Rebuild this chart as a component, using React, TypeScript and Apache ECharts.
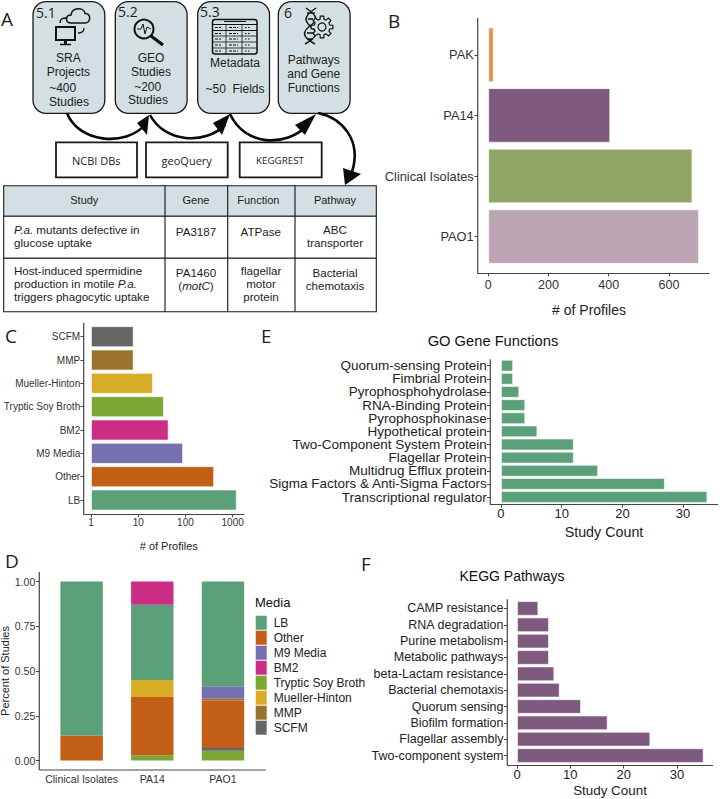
import React, { useEffect, useRef } from "react";
import * as echarts from "echarts";

// ---------- data ----------
const strainCats = ["PAK", "PA14", "Clinical Isolates", "PAO1"];
const strainVals = [18, 405, 678, 700];
const strainColors = ["#E38F4E", "#7E5A7F", "#90A564", "#BCA5B3"];

const mediaCats = ["SCFM", "MMP", "Mueller-Hinton", "Tryptic Soy Broth", "BM2", "M9 Media", "Other", "LB"];
const mediaVals = [8, 8, 20.6, 35, 44, 89, 404, 1222];
const mediaColors = ["#666666", "#9A722C", "#D9AC28", "#7CA733", "#CC2D85", "#7570B0", "#C25E16", "#5BA078"];

const goCats = ["Quorum-sensing Protein", "Fimbrial Protein", "Pyrophosphohydrolase", "RNA-Binding Protein", "Pyrophosphokinase", "Hypothetical protein", "Two-Component System Protein", "Flagellar Protein", "Multidrug Efflux protein", "Sigma Factors & Anti-Sigma Factors", "Transcriptional regulator"];
const goVals = [2, 2, 3, 4, 4, 6, 12, 12, 16, 27, 34];

const keggCats = ["CAMP resistance", "RNA degradation", "Purine metabolism", "Metabolic pathways", "beta-Lactam resistance", "Bacterial chemotaxis", "Quorum sensing", "Biofilm formation", "Flagellar assembly", "Two-component system"];
const keggVals = [4, 6, 6, 6, 7, 8, 12, 17, 25, 35];

const stackCats = ["Clinical Isolates", "PA14", "PAO1"];
const stackTryptic = [null, 0.03, 0.055];
const stackSCFM = [null, null, 0.015];
const stackOther = [0.14, 0.325, 0.265];
const stackMMP = [null, null, 0.01];
const stackMueller = [null, 0.095, null];
const stackM9 = [null, null, 0.07];
const stackLB = [0.86, 0.42, 0.585];
const stackBM2 = [null, 0.13, null];
const legendOrder = ["LB", "Other", "M9 Media", "BM2", "Tryptic Soy Broth", "Mueller-Hinton", "MMP", "SCFM"];

const ticksB = [0, 200, 400, 600];
const ticksC = [1, 10, 100, 1000];
const ticksD = [0, 0.25, 0.5, 0.75, 1];
const ticksE = [0, 10, 20, 30];
const ticksF = [0, 10, 20, 30];

const SANS = "Liberation Sans";
const ALT = "Open Sans";
const INK = "#222222";
const AXIS = "#444444";
const PALE = "#D3DFE2";
const EDGE = "rgba(255,255,255,0.55)";

// ---------- panel A helpers ----------
const txt = (text: string, x: number, y: number, fontSize = 12, align = "center", font = SANS, extra: any = {}) => ({
  type: "text", x, y, z: 5,
  style: { text, fontSize, fontFamily: font, fill: extra.fill || "#1c1c1c", align, verticalAlign: "middle", rich: extra.rich, lineHeight: extra.lineHeight },
});
const ln = (x1: number, y1: number, x2: number, y2: number, lineWidth = 1, stroke = "#111", lineDash?: number[]) => ({
  type: "line", z: 4, shape: { x1, y1, x2, y2 }, style: { stroke, lineWidth, lineDash },
});
const rectEl = (x: number, y: number, width: number, height: number, fill: string, lineWidth = 1.3, r = 0) => ({
  type: "rect", z: 3, shape: { x, y, width, height, r }, style: { fill, stroke: "#1a1a1a", lineWidth },
});
const curve = (x1: number, y1: number, cx1: number, cy1: number, cx2: number, cy2: number, x2: number, y2: number) => ({
  type: "bezierCurve", z: 4,
  shape: { x1, y1, x2, y2, cpx1: cx1, cpy1: cy1, cpx2: cx2, cpy2: cy2 },
  style: { stroke: "#0a0a0a", lineWidth: 2.6, fill: "none" },
});
const head = (points: number[][]) => ({ type: "polygon", z: 4, shape: { points }, style: { fill: "#0a0a0a" } });

const gearPath = (cx: number, cy: number, r1: number, r2: number, teeth: number) => {
  let d = "";
  const step = (Math.PI * 2) / teeth;
  for (let i = 0; i < teeth; i++) {
    const a = i * step;
    const pts = [[r1, a - step * 0.32], [r2, a - step * 0.2], [r2, a + step * 0.2], [r1, a + step * 0.32]];
    pts.forEach(([r, t], j) => {
      const px = (cx + r * Math.cos(t)).toFixed(2);
      const py = (cy + r * Math.sin(t)).toFixed(2);
      d += (i === 0 && j === 0 ? "M" : "L") + px + " " + py + " ";
    });
  }
  return d + "Z";
};

echarts.graphic.registerShape("cloudIcon", echarts.graphic.extendPath(
  "M71 23 C65 23 65 15 71 15 C72 7 84 7 85 13.5 C91.5 13 91 23 85 23 Z", {}) as any);
echarts.graphic.registerShape("dnaIcon", echarts.graphic.extendPath(
  "M306 8 C318 16 318 20 310 26 C302 32 302 37 315 44 M316 8 C304 16 304 20 310 26 C318 32 318 37 305 44 M307 13 L315 13 M308 19 L313 19 M307 33 L314 33 M307 39 L313 39", {}) as any);
echarts.graphic.registerShape("gearIcon", echarts.graphic.extendPath(gearPath(322, 27, 8, 11, 8), {}) as any);
const iconStyle = (lineWidth: number) => ({ fill: "none", stroke: "#111", lineWidth });

const panelA = () => {
  const els: any[] = [];
  // process boxes
  [33, 115.3, 197.7, 278.3].forEach((x) => els.push(rectEl(x, 1.7, 71.8, 111.6, PALE, 1.3, 13)));
  els.push(txt("5.1", 36, 12, 14, "left", ALT), txt("5.2", 118, 11, 14, "left", ALT), txt("5.3", 200, 11, 14, "left", ALT), txt("6", 284, 12, 14, "left", ALT));
  els.push(txt("SRA", 68.3, 58), txt("Projects", 68.3, 72), txt("~400", 62.7, 88), txt("Studies", 69, 102));
  els.push(txt("GEO", 151, 58), txt("Studies", 151, 72), txt("~200", 147.7, 87), txt("Studies", 148, 100));
  els.push(txt("Metadata", 235, 63), txt("~50  Fields", 235, 89));
  els.push(txt("Pathways", 313.7, 60), txt("and Gene", 313.7, 74), txt("Functions", 313.7, 88));
  // icon: cloud + monitor
  els.push({ type: "cloudIcon", z: 4, style: iconStyle(1.5) });
  els.push({ type: "rect", z: 4, shape: { x: 56, y: 27, width: 19, height: 13 }, style: iconStyle(2) });
  els.push(ln(65.5, 40, 65.5, 44, 3), ln(60, 44.5, 71, 44.5, 1.5));
  els.push(curve(60, 23, 60, 19, 62, 18, 67, 18), curve(84, 28, 84, 32, 82, 33, 78, 33));
  els[els.length - 1].style.lineWidth = 1.3; els[els.length - 2].style.lineWidth = 1.3;
  // icon: magnifier
  els.push({ type: "circle", z: 4, shape: { cx: 144, cy: 29, r: 9.5 }, style: iconStyle(2) });
  els.push(ln(151, 36, 163, 45, 3.2));
  els.push({ type: "polyline", z: 4, shape: { points: [[137, 29], [141, 29], [143, 24], [145, 34], [147, 27], [151, 29]] }, style: iconStyle(1) });
  // icon: table
  els.push({ type: "rect", z: 4, shape: { x: 212.5, y: 19.5, width: 44.5, height: 34.5, r: 2.5 }, style: iconStyle(1.5) });
  els.push(ln(224, 21.5, 246, 21.5, 1), ln(212.5, 24.5, 257, 24.5, 1), ln(212.5, 30.5, 257, 30.5, 1), ln(212.5, 36, 257, 36, 0.8), ln(212.5, 42, 257, 42, 0.8), ln(212.5, 48, 257, 48, 0.8), ln(226, 24.5, 226, 54, 0.8), ln(242, 24.5, 242, 54, 0.8));
  [27.5, 33.5, 39, 45, 51].forEach((y) => els.push(ln(215, y, 221, y, 1.2, "#111", [3, 1]), ln(229, y, 238, y, 1.2, "#111", [3, 1]), ln(245, y, 251, y, 1, "#111", [1.5, 1.5])));
  // icon: DNA + gear
  els.push({ type: "dnaIcon", z: 4, style: iconStyle(1.5) });
  els.push({ type: "gearIcon", z: 4, style: { ...iconStyle(1.2), fill: PALE } });
  els.push({ type: "circle", z: 4, shape: { cx: 322, cy: 27, r: 4 }, style: iconStyle(1.2) });
  // arrows
  els.push(curve(67, 113, 78, 142, 125, 148, 146, 124), head([[149, 115], [137, 123], [147, 135]]));
  els.push(curve(150, 115, 165, 143, 205, 145, 225, 125), head([[230, 114], [213, 123], [222, 135]]));
  els.push(curve(230, 114, 245, 146, 285, 148, 308, 125), head([[316, 114], [295, 125], [305, 135]]));
  els.push(curve(318, 113, 342, 118, 362, 140, 352, 172), head([[345, 185], [343, 168], [361, 174]]));
  // tool boxes
  els.push(rectEl(56, 142.3, 81, 35, "#fff", 1.8), rectEl(146, 142.3, 81.7, 35, "#fff", 1.8), rectEl(239.7, 142.3, 82, 35, "#fff", 1.8));
  els.push(txt("NCBI DBs", 96.3, 160.5, 11, "center", ALT), txt("geoQuery", 186.7, 160.5, 11, "center", ALT), txt("KEGGREST", 280, 160.5, 9.8, "center", ALT));
  // table
  els.push(rectEl(3.7, 185.7, 372.6, 30.6, PALE, 1.1), rectEl(3.7, 216.3, 372.6, 42, "#fff", 1.1), rectEl(3.7, 258.3, 372.6, 53.4, "#fff", 1.1));
  [165, 227.7, 295].forEach((x) => els.push(ln(x, 185.7, x, 311.7, 1.1)));
  els.push(txt("Study", 84.3, 200.3, 11), txt("Gene", 196, 200.3, 11), txt("Function", 258.3, 200.3, 11), txt("Pathway", 335, 200.3, 11));
  const B = 11.6;
  const L = 13;
  const multi = { lineHeight: L };
  const it = { rich: { i: { fontStyle: "italic", fontSize: B, fontFamily: SANS, fill: "#1c1c1c", lineHeight: L }, n: { fontSize: B, fontFamily: SANS, fill: "#1c1c1c", lineHeight: L } } };
  els.push(txt("{i|P.a.}{n| mutants defective in}\n{n|glucose uptake}", 14, 236.35, B, "left", SANS, it));
  els.push(txt("PA3187", 196, 231, B), txt("ATPase", 260.7, 231, B), txt("ABC\ntransporter", 335, 236.35, B, "center", SANS, multi));
  els.push(txt("{n|Host-induced spermidine}\n{n|production in motile }{i|P.a.}\n{n|triggers phagocytic uptake}", 14, 283.8, B, "left", SANS, it));
  els.push(txt("{n|PA1460}\n{n|(}{i|motC}{n|)}", 196, 278.5, B, "center", SANS, it));
  els.push(txt("flagellar\nmotor\nprotein", 261, 283.8, B, "center", SANS, multi));
  els.push(txt("Bacterial\nchemotaxis", 335, 278.5, B, "center", SANS, multi));
  return els;
};

const panelLetters = () => [
  txt("A", 1, 19, 19, "left", ALT), txt("B", 388, 21, 19, "left", ALT), txt("C", 5, 336, 19, "left", ALT),
  txt("D", 5, 561, 19, "left", ALT), txt("E", 261, 336, 19, "left", ALT), txt("F", 361, 564, 19, "left", ALT),
];

// ---------- chart helpers ----------
type HBar = {
  cats: string[]; vals: number[]; colors: string[] | string; ticks: number[];
  left: number; width: number; top: number; height: number; axisBottom: number; axisTop: number;
  min: number; max: number; log?: boolean; labelSize: number; tickSize: number; nameSize: number;
  name: string; nameGap: number; shift: number; labelMargin: number; xMargin: number; labelColor: string;
};
const panels: HBar[] = [
  { cats: strainCats, vals: strainVals, colors: strainColors, ticks: ticksB, left: 477.7, width: 231.3, top: 24.5, height: 242.4, axisBottom: 273, axisTop: 18, min: -35, max: 733, labelSize: 12.8, tickSize: 12.5, nameSize: 14, name: "# of Profiles", nameGap: 30, shift: -4.3, labelMargin: 4, xMargin: 5, labelColor: "#333" },
  { cats: mediaCats, vals: mediaVals, colors: mediaColors, ticks: ticksC, left: 83.7, width: 160.3, top: 325, height: 186.7, axisBottom: 514, axisTop: 322.7, min: 0.7, max: 1738, log: true, labelSize: 10, tickSize: 10, nameSize: 11, name: "# of Profiles", nameGap: 26, shift: 4.9, labelMargin: 3.5, xMargin: 3, labelColor: "#333" },
  { cats: goCats, vals: goVals, colors: "#5BA078", ticks: ticksE, left: 490.3, width: 227.4, top: 359.1, height: 144.5, axisBottom: 504.3, axisTop: 359.3, min: -1.76, max: 35.7, labelSize: 13.5, tickSize: 13, nameSize: 14.3, name: "Study Count", nameGap: 21, shift: 0, labelMargin: 3.5, xMargin: 3, labelColor: "#222" },
  { cats: keggCats, vals: keggVals, colors: "#7E5A7F", ticks: ticksF, left: 507.3, width: 205.4, top: 600.3, height: 163.4, axisBottom: 765.3, axisTop: 599.3, min: -1.82, max: 36.7, labelSize: 12.5, tickSize: 13, nameSize: 13.4, name: "Study Count", nameGap: 19, shift: 0, labelMargin: 3.8, xMargin: 3, labelColor: "#222" },
];

const axisTickStyle = { show: true, length: 3.3, lineStyle: { color: AXIS, width: 1 } };

const stackData: [string, (number | null)[], string][] = [
  ["Tryptic Soy Broth", stackTryptic, "#7CA733"],
  ["SCFM", stackSCFM, "#666666"],
  ["Other", stackOther, "#C25E16"],
  ["MMP", stackMMP, "#9A722C"],
  ["Mueller-Hinton", stackMueller, "#D9AC28"],
  ["M9 Media", stackM9, "#7570B0"],
  ["LB", stackLB, "#5BA078"],
  ["BM2", stackBM2, "#CC2D85"],
];

function buildOption() {
  const grid: any[] = [];
  const xAxis: any[] = [];
  const yAxis: any[] = [];
  const series: any[] = [];
  const lines: any[] = [];

  panels.forEach((p, i) => {
    grid.push({ left: p.left, top: p.top, width: p.width, height: p.height, outerBoundsMode: "none" });
    xAxis.push({
      gridIndex: i, type: p.log ? "log" : "value", logBase: 10, min: p.min, max: p.max, position: "bottom",
      offset: p.axisBottom - (p.top + p.height), splitLine: { show: false }, minorTick: { show: false },
      axisLine: { show: true, onZero: false, lineStyle: { color: AXIS, width: 1.2 } },
      axisTick: { ...axisTickStyle, customValues: p.ticks },
      axisLabel: { customValues: p.ticks, fontSize: p.tickSize, fontFamily: SANS, color: p.labelColor, margin: p.xMargin, hideOverlap: false, formatter: (v: number) => String(v) },
      name: p.name, nameLocation: "middle", nameGap: p.nameGap,
      nameTextStyle: { fontSize: p.nameSize, fontFamily: SANS, color: INK, padding: p.shift > 0 ? [0, 0, 0, 2 * p.shift] : [0, -2 * p.shift, 0, 0] },
    });
    yAxis.push({
      gridIndex: i, type: "category", data: p.cats, inverse: true, position: "left",
      axisLine: { show: false, onZero: false }, axisTick: { ...axisTickStyle, alignWithLabel: true },
      axisLabel: { fontSize: p.labelSize, fontFamily: SANS, color: p.labelColor, margin: p.labelMargin, interval: 0, lineHeight: Math.min(p.labelSize, p.height / p.cats.length) },
      splitLine: { show: false },
    });
    series.push({
      type: "bar", xAxisIndex: i, yAxisIndex: i, barCategoryGap: "10%", silent: true,
      data: p.vals.map((v, k) => ({ value: v, itemStyle: { color: Array.isArray(p.colors) ? p.colors[k] : p.colors, borderColor: EDGE, borderWidth: 1 } })),
    });
    lines.push(ln(p.left, p.axisTop, p.left, p.axisBottom, 1.2, AXIS));
  });

  // panel D
  const d = panels.length;
  grid.push({ left: 46.3, top: 572, width: 212, height: 198, outerBoundsMode: "none" });
  xAxis.push({
    gridIndex: d, type: "category", data: stackCats, position: "bottom",
    axisLine: { show: false, onZero: false }, axisTick: { show: false },
    axisLabel: { fontSize: 10.5, fontFamily: SANS, color: "#333", margin: 3, interval: 0 },
  });
  yAxis.push({
    gridIndex: d, type: "value", min: -0.0525, max: 1.0531, offset: 7, position: "left",
    splitLine: { show: false },
    axisLine: { show: false, onZero: false },
    axisTick: { ...axisTickStyle, customValues: ticksD },
    axisLabel: { customValues: ticksD, fontSize: 10.5, fontFamily: SANS, color: "#333", margin: 4, formatter: (v: number) => Number(v).toFixed(2) },
    name: "Percent of Studies", nameLocation: "middle", nameGap: 28, nameRotate: 90,
    nameTextStyle: { fontSize: 11, fontFamily: SANS, color: INK },
  });
  lines.push(ln(39.3, 572, 39.3, 770, 1.2, AXIS), ln(39.3, 770, 265.7, 770, 1.2, AXIS));
  stackData.forEach(([name, vals, color]) => {
    series.push({
      name, type: "bar", stack: "media", xAxisIndex: d, yAxisIndex: d, barWidth: "60%", silent: true,
      data: vals, itemStyle: { color },
    });
  });

  return {
    animation: false,
    backgroundColor: "#ffffff",
    grid, xAxis, yAxis, series,
    title: [
      { text: "GO Gene Functions", left: 493, top: 341, padding: 0, textAlign: "center", textVerticalAlign: "middle", textStyle: { fontSize: 14.7, fontWeight: "normal", fontFamily: SANS, color: "#111" } },
      { text: "KEGG Pathways", left: 512, top: 576, padding: 0, textAlign: "center", textVerticalAlign: "middle", textStyle: { fontSize: 14, fontWeight: "normal", fontFamily: SANS, color: "#111" } },
      { text: "Media", left: 255, top: 602, padding: 0, textVerticalAlign: "middle", textStyle: { fontSize: 13, fontWeight: "normal", fontFamily: SANS, color: "#111" } },
    ],
    legend: {
      show: true, orient: "vertical", left: 255.7, top: 615.7, padding: 0, itemWidth: 11, itemHeight: 14, itemGap: 1,
      data: legendOrder.map((name) => ({ name, icon: "rect" })), selectedMode: false,
      textStyle: { fontSize: 12, fontFamily: SANS, color: "#222", padding: [0, 0, 0, 2] },
    },
    graphic: { elements: [...panelA(), ...panelLetters(), ...lines] },
  };
}

export default function App() {
  const ref = useRef<HTMLDivElement>(null);
  useEffect(() => {
    document.body.style.margin = "0";
    const chart = echarts.init(ref.current!, null, { renderer: "svg", width: 720, height: 799 });
    chart.setOption(buildOption() as any);
    return () => chart.dispose();
  }, []);
  return <div ref={ref} style={{ width: 720, height: 799 }} />;
}
